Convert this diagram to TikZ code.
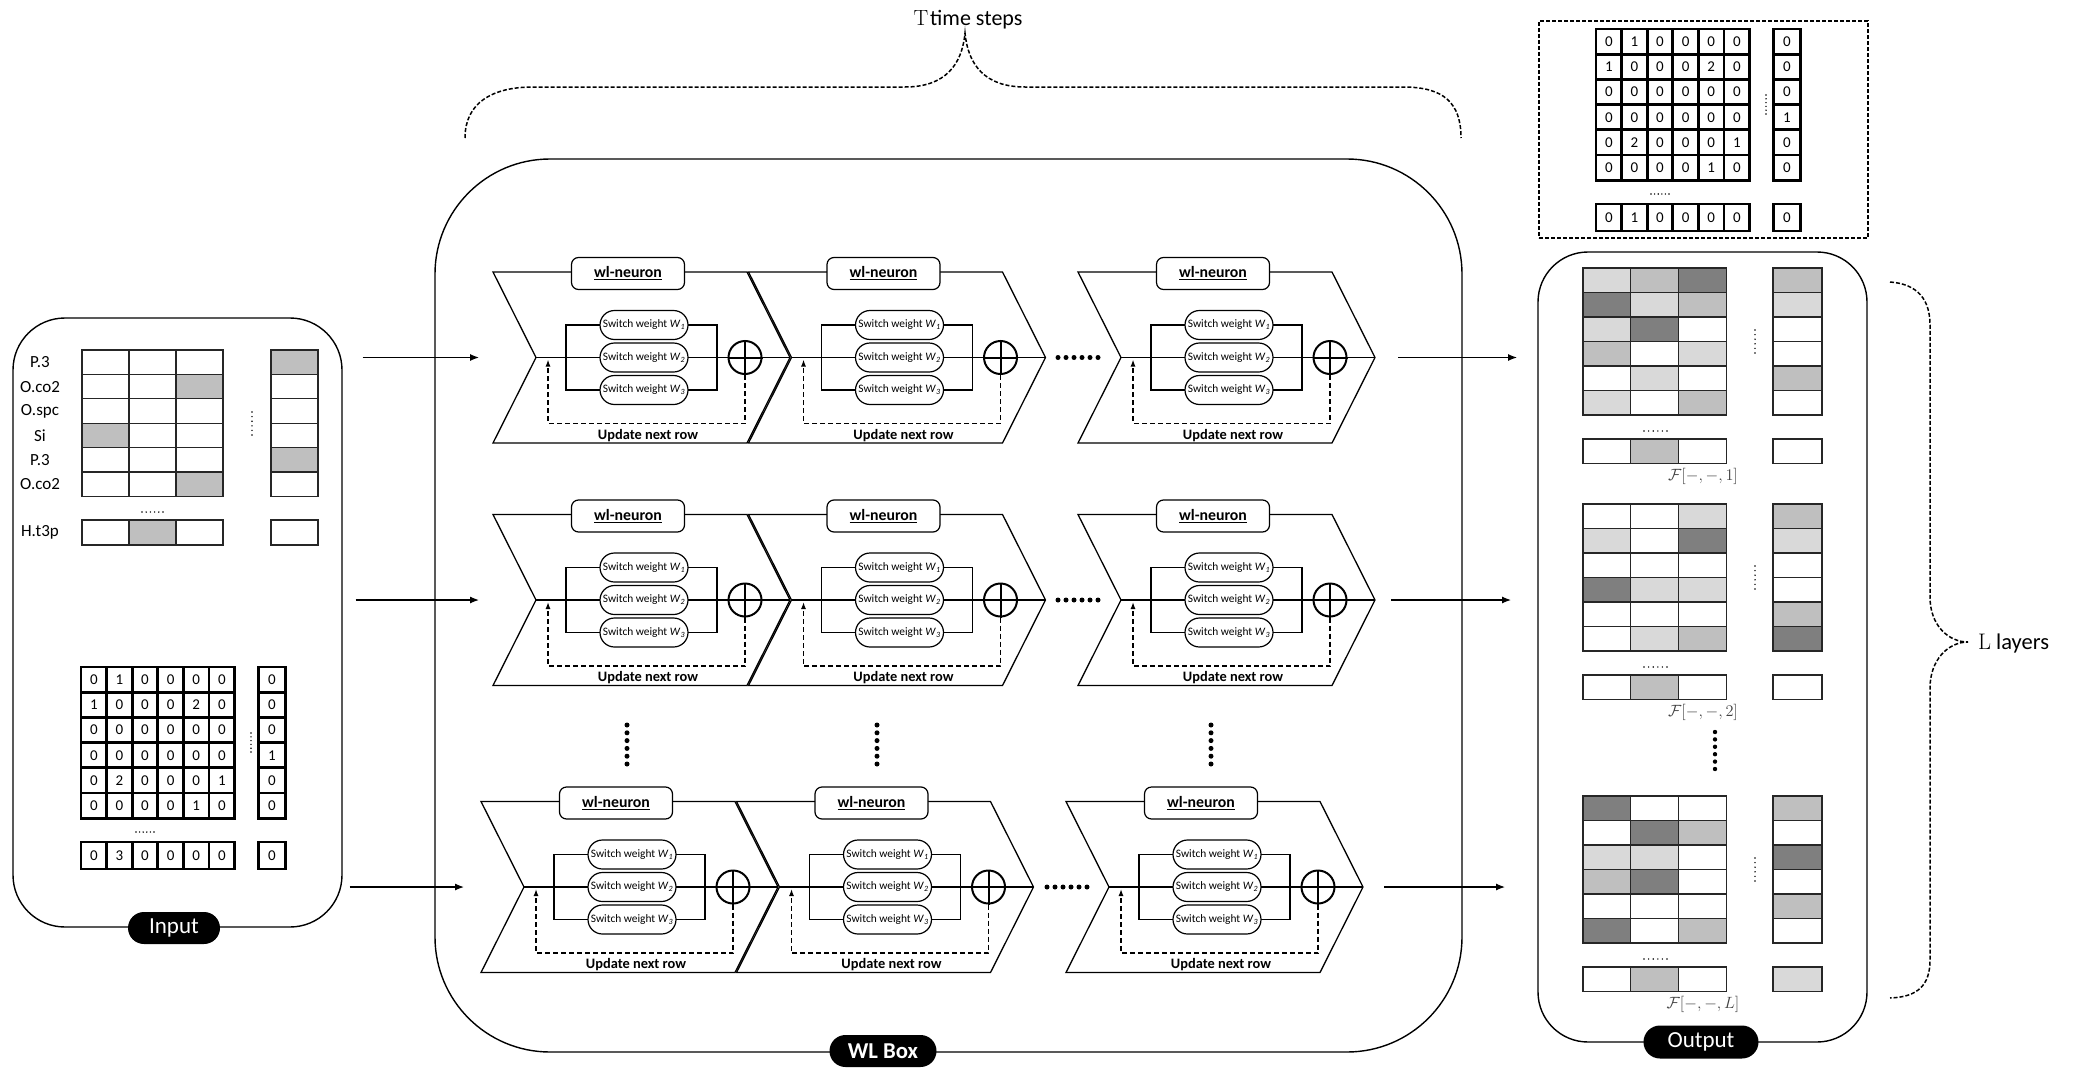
\documentclass[tikz,border=0pt]{standalone}
\usepackage{fix-cm}
\usepackage{fontspec}
\newfontfamily\carl{Carlito}
\usetikzlibrary{arrows.meta}
\definecolor{lg}{HTML}{D9D9D9}
\definecolor{mg}{HTML}{BFBFBF}
\definecolor{dg}{HTML}{7F7F7F}
\definecolor{wh}{HTML}{FFFFFF}
\newcommand\fs[1]{\fontsize{#1}{#1}\selectfont}
\newcommand\DotsH[4]{\foreach \k in {0,...,5}{\fill ({(#1)+((#2)-(#1))*\k/5},{#3}) circle (#4);}}
\newcommand\DotsV[4]{\foreach \k in {0,...,5}{\fill ({#1},{(#2)+((#3)-(#2))*\k/5}) circle (#4);}}
% wl-neuron chevron: #1 name, #2 x0, #3 middle y
\newcommand\WLN[3]{%
  \coordinate (#1-in) at ({#2+43},{#3});
  \coordinate (#1-out) at ({#2+297},{#3});
  \draw[wlchev] ({#2},{#3-85.5}) -- ({#2+254},{#3-85.5}) -- (#1-out) -- ({#2+254},{#3+85.5}) -- ({#2},{#3+85.5}) -- (#1-in) -- cycle;
  \draw[wlthin] (#1-in) -- (#1-out);
  \draw[wlthin] ({#2+73},{#3-32.5}) rectangle ({#2+224},{#3+32.5});
  \node[wlsw] (#1-w1) at ({#2+151},{#3-32.5}) {Switch weight \textit{W}\textsubscript{\textit{1}}};
  \node[wlsw] (#1-w2) at ({#2+151},{#3}) {Switch weight \textit{W}\textsubscript{\textit{2}}};
  \node[wlsw] (#1-w3) at ({#2+151},{#3+32.5}) {Switch weight \textit{W}\textsubscript{\textit{3}}};
  \node[wlsum] (#1-sum) at ({#2+252},{#3}) {};
  \draw[wlsumline] (#1-sum.north) -- (#1-sum.south) (#1-sum.west) -- (#1-sum.east);
  \node[wllab] (#1-lab) at ({#2+135},{#3-84}) {\underline{wl-neuron}};
  \node[wlupd] (#1-upd) at ({#2+155},{#3+78}) {Update next row};
  \draw[wlfb] (#1-sum.south) -- ({#2+252},{#3+66}) -- ({#2+55},{#3+66}) -- ({#2+55},{#3+2});
}
% numeric matrix: #1 name, #2 left, #3 top, #4 bottom row
\newcommand\NumMat[4]{%
  \foreach \rw [count=\i] in {{0,1,0,0,0,0},{1,0,0,0,2,0},{0,0,0,0,0,0},{0,0,0,0,0,0},{0,2,0,0,0,1},{0,0,0,0,1,0}}{%
    \foreach \v [count=\j] in \rw {%
      \node[numcell] (#1-\i-\j) at ({#2+(\j-0.5)*25.6},{#3+(\i-0.5)*25.2}) {\v};}}
  \foreach \v [count=\i] in {0,0,0,1,0,0}{%
    \node[numcell,minimum width=27] (#1-r\i) at ({#2+191},{#3+(\i-0.5)*25.2}) {\v};}
  \foreach \v [count=\j] in {#4}{%
    \node[numcell,minimum height=27] (#1-b\j) at ({#2+(\j-0.5)*25.6},{#3+188.5}) {\v};}
  \node[numcell,minimum width=27,minimum height=27] (#1-rb) at ({#2+191},{#3+188.5}) {0};
  \DotsV{#2+170}{#3+66}{#3+85}{0.8}
  \DotsH{#2+55}{#2+73}{#3+165}{0.8}
}
% output matrix: #1 name, #2 top, #3 rows, #4 right col, #5 bottom-right colour, #6 label
\newcommand\OutMat[6]{%
  \foreach \rw [count=\i] in {#3}{%
    \foreach \c [count=\j] in \rw {%
      \node[ocell,fill=\c] (#1-\i-\j) at ({1583+(\j-0.5)*47.7},{#2+(\i-0.5)*24.5}) {};}}
  \foreach \c [count=\i] in {#4}{%
    \node[ocell,fill=\c,minimum width=49] (#1-r\i) at (1797.5,{#2+(\i-0.5)*24.5}) {};}
  \foreach \c [count=\j] in {wh,mg,wh}{%
    \node[ocell,fill=\c] (#1-b\j) at ({1583+(\j-0.5)*47.7},{#2+183.25}) {};}
  \node[ocell,fill=#5,minimum width=49] (#1-rb) at (1797.5,{#2+183.25}) {};
  \DotsV{1755}{#2+62}{#2+85}{0.8}
  \DotsH{1644}{1667}{#2+163}{0.8}
  \node[flab] (#1-lab) at (1703,{#2+208}) {#6};
}
\begin{document}
\begin{tikzpicture}[x=1pt,y=-1pt,
  wlchev/.style={draw,line width=1.3pt},
  wlthin/.style={line width=1.2pt},
  wllab/.style={draw,fill=white,rounded corners=7,minimum width=113,minimum height=32,inner sep=0pt,line width=1.2pt,font=\carl\bfseries\fs{15.8}},
  wlsw/.style={draw,fill=white,rounded corners=14.5,minimum width=88,minimum height=29,inner sep=0pt,line width=1.2pt,font=\carl\fs{11.4}},
  wlsum/.style={draw,circle,fill=white,minimum size=33,inner sep=0pt,line width=2pt},
  wlsumline/.style={line width=2pt},
  wlupd/.style={inner sep=0pt,font=\carl\bfseries\fs{14.4}},
  wlfb/.style={dash pattern=on 5pt off 3pt,line width=1.3pt,-{Latex[length=7pt,width=5pt]}},
  arr/.style={line width=1.2pt,-{Latex[length=9pt,width=7pt]}},
  bigbox/.style={draw,line width=1.4pt,inner sep=0pt},
  pill/.style={fill=black,text=white,inner sep=0pt,font=\carl\fs{23}},
  numcell/.style={draw,line width=2.8pt,minimum width=25.6,minimum height=25.2,inner sep=0pt,font=\carl\fs{15}},
  icell/.style={draw=black!85,line width=1.1pt,minimum width=47,minimum height=24.4,inner sep=0pt},
  ocell/.style={draw=black!85,line width=1.1pt,minimum width=47.7,minimum height=24.5,inner sep=0pt},
  rowlab/.style={inner sep=0pt,font=\carl\fs{17}},
  flab/.style={inner sep=0pt,text=black!75,font=\fs{16.3}},
  brace/.style={dash pattern=on 4pt off 2pt,line width=1.5pt},
]
\useasboundingbox (0,0) rectangle (2078,1068);

% ---------- big boxes ----------
\node[bigbox,rounded corners=52,minimum width=329,minimum height=609] (inbox) at (177.5,622.5) {};
\node[bigbox,rounded corners=115,minimum width=1027,minimum height=893] (wlbox) at (948.5,605.5) {};
\node[bigbox,rounded corners=50,minimum width=329,minimum height=790] (outbox) at (1702.5,647) {};
\node[draw,dash pattern=on 4pt off 2pt,line width=1.1pt,minimum width=329,minimum height=217,inner sep=0pt] (topbox) at (1703.5,129.5) {};

% ---------- input: labelled matrix ----------
\foreach \rw [count=\i] in {{wh,wh,wh},{wh,wh,mg},{wh,wh,wh},{mg,wh,wh},{wh,wh,wh},{wh,wh,mg}}{%
  \foreach \c [count=\j] in \rw {%
    \node[icell,fill=\c] (im-\i-\j) at ({82+(\j-0.5)*47},{350+(\i-0.5)*24.4}) {};}}
\foreach \c [count=\i] in {mg,wh,wh,wh,mg,wh}{%
  \node[icell,fill=\c] (im-r\i) at (294.5,{350+(\i-0.5)*24.4}) {};}
\foreach \c [count=\j] in {wh,mg,wh}{%
  \node[icell,fill=\c,minimum height=25] (im-b\j) at ({82+(\j-0.5)*47},532.5) {};}
\node[icell,minimum height=25] (im-rb) at (294.5,532.5) {};
\foreach \t [count=\i] in {P.3,O.co2,O.spc,Si,P.3,O.co2}{%
  \node[rowlab] (rl\i) at (40,{350+(\i-0.5)*24.4}) {\t};}
\node[rowlab] (rl7) at (40,532.5) {H.t3p};
\DotsV{252}{412}{435}{0.8}
\DotsH{142}{163}{512}{0.8}

% ---------- input: numeric matrix ----------
\NumMat{nm}{81}{667}{0,3,0,0,0,0}

% ---------- top dashed numeric matrix ----------
\NumMat{tm}{1596}{29}{0,1,0,0,0,0}

% ---------- WL neurons ----------
\WLN{a1}{493}{357.5}
\WLN{a2}{748.5}{357.5}
\WLN{a3}{1078}{357.5}
\WLN{b1}{493}{600}
\WLN{b2}{748.5}{600}
\WLN{b3}{1078}{600}
\WLN{c1}{481}{887}
\WLN{c2}{736.5}{887}
\WLN{c3}{1066}{887}
\DotsH{1058}{1098}{357.5}{2.5}
\DotsH{1058}{1098}{600}{2.5}
\DotsH{1047}{1087}{887}{2.5}
\DotsV{627}{725}{764}{2.5}
\DotsV{877}{725}{764}{2.5}
\DotsV{1211}{725}{764}{2.5}

% ---------- arrows ----------
\draw[arr] ([xshift=20pt]inbox.east |- a1-in) -- ([xshift=-57pt]a1-in);
\draw[arr] ([xshift=13pt]inbox.east |- b1-in) -- ([xshift=-57pt]b1-in);
\draw[arr] ([xshift=7pt]inbox.east |- c1-in) -- ([xshift=-60pt]c1-in);
\draw[arr] ([xshift=23pt]a3-out) -- ([xshift=142pt]a3-out);
\draw[arr] ([xshift=16pt]b3-out) -- ([xshift=136pt]b3-out);
\draw[arr] ([xshift=21pt]c3-out) -- ([xshift=142pt]c3-out);

% ---------- output matrices ----------
\OutMat{o1}{268}{{lg,mg,dg},{dg,lg,mg},{lg,dg,wh},{mg,wh,lg},{wh,lg,wh},{lg,wh,mg}}{mg,lg,wh,wh,mg,wh}{wh}{$\mathcal{F}[-,-,1]$}
\OutMat{o2}{504}{{wh,wh,lg},{lg,wh,dg},{wh,wh,wh},{dg,lg,lg},{wh,wh,wh},{wh,lg,mg}}{mg,lg,wh,wh,mg,dg}{wh}{$\mathcal{F}[-,-,2]$}
\OutMat{o3}{796}{{dg,wh,wh},{wh,dg,mg},{lg,lg,wh},{mg,dg,wh},{wh,wh,wh},{dg,wh,mg}}{mg,wh,dg,wh,mg,wh}{lg}{$\mathcal{F}[-,-,L]$}
\DotsV{1715}{732}{769}{2.2}

% ---------- braces ----------
\draw[brace] (465,138) .. controls (465,103) and (492,87) .. (533,87) -- (905,87)
  .. controls (945,87) and (962,65) .. (965,33)
  .. controls (968,65) and (985,87) .. (1025,87) -- (1403,87)
  .. controls (1444,87) and (1461,103) .. (1461,138);
\node[inner sep=0pt] (tlab) at (968,20) {\fs{22}T\hspace{2pt}{\carl time steps}};
\draw[brace] (1890,282) .. controls (1918,284) and (1930,300) .. (1930,325) -- (1930,597)
  .. controls (1930,625) and (1948,642) .. (1968,642)
  .. controls (1948,642) and (1930,660) .. (1930,688) -- (1930,960)
  .. controls (1930,985) and (1918,997) .. (1890,998);
\node[inner sep=0pt,anchor=west] (llab) at (1978,643) {\fs{22.5}L\hspace{5pt}{\carl layers}};

% ---------- pills ----------
\node[pill,rounded corners=16,minimum width=92,minimum height=32] (inpill) at (174,928) {Input};
\node[pill,rounded corners=16,minimum width=107,minimum height=32,font=\carl\bfseries\fs{22.7}] (wlpill) at (883,1051) {WL Box};
\node[pill,rounded corners=16.5,minimum width=115,minimum height=33] (outpill) at (1701,1042) {Output};
\end{tikzpicture}
\end{document}
